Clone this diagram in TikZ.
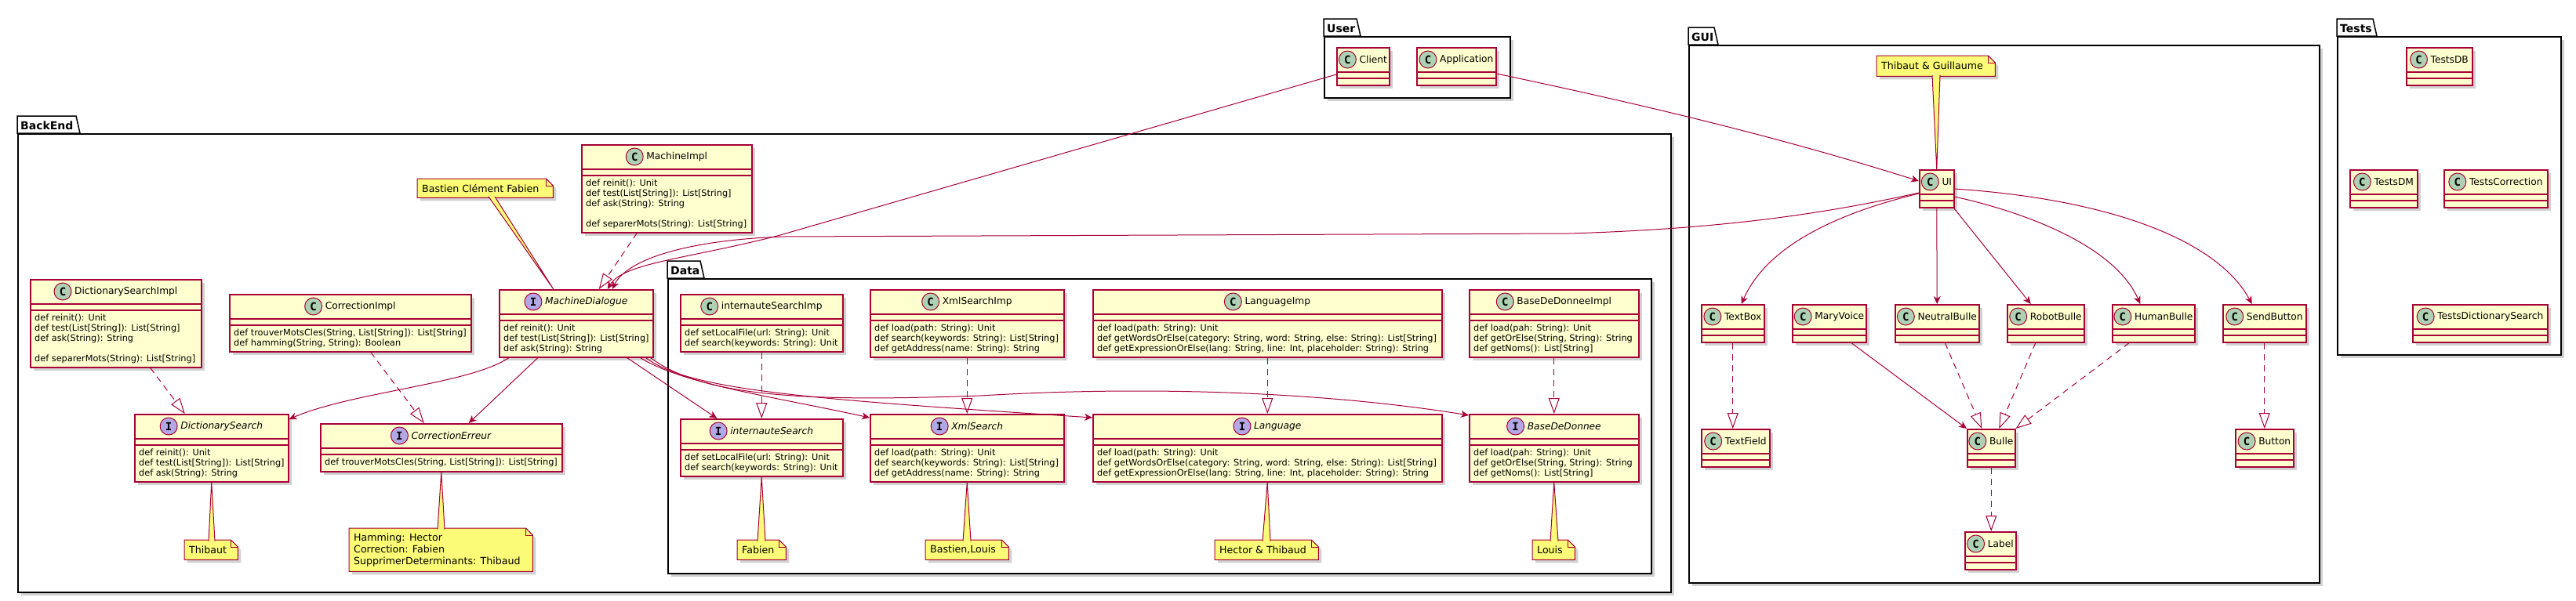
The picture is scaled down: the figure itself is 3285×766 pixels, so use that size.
\documentclass[tikz,border=0pt]{standalone}
\usepackage{fontspec}
\setmainfont{DejaVu Sans}
\newfontfamily\spotfont{DejaVu Sans Mono}
\usetikzlibrary{arrows.meta,shadows}

\definecolor{umlred}{HTML}{A80036}
\definecolor{classfill}{HTML}{FEFECE}
\definecolor{notefill}{HTML}{FBFB77}
\definecolor{spotc}{HTML}{ADD1B2}
\definecolor{spoti}{HTML}{B4A7E5}

\tikzset{
  softshadow/.style={drop shadow={shadow xshift=4pt, shadow yshift=-4pt, fill=black, opacity=0.18}},
  classbox/.style={draw=umlred, fill=classfill, line width=1.5pt, inner sep=0pt, softshadow},
  classsep/.style={draw=umlred, line width=1.5pt},
  classname/.style={inner sep=0pt, font=\fontsize{12.2}{14}\selectfont},
  members/.style={inner sep=0pt, align=left, font=\fontsize{11.3}{13}\selectfont},
  spotC/.style={circle, draw=umlred, fill=spotc, line width=1pt, minimum size=22pt, inner sep=0pt,
    font=\spotfont\bfseries\fontsize{14}{14}\selectfont},
  spotI/.style={spotC, fill=spoti},
  pkgbody/.style={draw=black, fill=white, line width=1.5pt, inner sep=0pt, softshadow},
  pkgline/.style={draw=black, line width=1.5pt},
  pkglabel/.style={inner sep=0pt, font=\bfseries\fontsize{14}{16}\selectfont},
  notebody/.style={inner sep=0pt},
  noteline/.style={draw=umlred, fill=notefill, line width=1pt},
  notetext/.style={inner sep=0pt, align=left, font=\fontsize{12.6}{15}\selectfont},
  tail/.style={draw=umlred, fill=notefill, line width=1pt},
  uses/.style={draw=umlred, line width=1pt, -{Stealth[length=10pt, width=9pt, inset=3pt]}},
  realizes/.style={draw=umlred, line width=1pt, dash pattern=on 8pt off 6pt,
    -{Triangle[open, length=20pt, width=14pt, fill=white]}}
}

% class box: name, x, y, width, height, spot letter, title, members
\newcommand{\umlclass}[8]{%
  \node[classbox, minimum width=#4pt, minimum height=#5pt, anchor=north west] (#1) at (#2,#3) {};
  \draw[classsep] ([yshift=-32pt]#1.north west) -- ([yshift=-32pt]#1.north east);
  \draw[classsep] ([yshift=-40pt]#1.north west) -- ([yshift=-40pt]#1.north east);
  \node[classname, xshift=13pt] (#1-name) at ([yshift=-16pt]#1.north) {#7};
  \node[spot#6] at ([xshift=-15pt]#1-name.west) {#6};
  \node[members, anchor=north west] at ([xshift=6pt, yshift=-45pt]#1.north west) {#8};
}

% package: name, label, x, body top, width, height, tab width
\newcommand{\umlpackage}[7]{%
  \node[pkgbody, minimum width=#5pt, minimum height=#6pt, anchor=north west] (#1) at (#3,#4) {};
  \draw[pkgline, fill=white] (#3,#4) -- ++(0,-22) -- ++(#7,0) -- ++(5,22) -- cycle;
  \node[pkglabel, anchor=south west] at ([xshift=4pt, yshift=4pt]#1.north west) {#2};
}

% note: name, x, y, width, height, text
\newcommand{\umlnote}[6]{%
  \node[notebody, minimum width=#4pt, minimum height=#5pt, anchor=north west] (#1) at (#2,#3) {};
  \draw[noteline, softshadow] (#1.north west) -- ([xshift=-9pt]#1.north east)
    -- ([yshift=-9pt]#1.north east) -- (#1.south east) -- (#1.south west) -- cycle;
  \draw[noteline, fill=none] ([xshift=-9pt]#1.north east) |- ([yshift=-9pt]#1.north east);
  \node[notetext, anchor=west] at ([xshift=6pt]#1.west) {#6};
}

\begin{document}
\begin{tikzpicture}[x=1pt, y=-1pt]
\useasboundingbox (0,0) rectangle (3285,766);

% packages
\umlpackage{backend}{BackEnd}{22}{170}{2108}{585}{75}
\umlpackage{data}{Data}{851}{355}{1254}{376}{42}
\umlpackage{user}{User}{1688}{46}{237}{78}{42}
\umlpackage{gui}{GUI}{2153}{57}{804}{686}{33}
\umlpackage{tests}{Tests}{2980}{46}{285}{406}{46}

% BackEnd
\umlclass{dsi}{38}{356}{218}{112}{C}{DictionarySearchImpl}{def reinit(): Unit\\def test(List[String]): List[String]\\def ask(String): String\\[13pt]def separerMots(String): List[String]}
\umlclass{ci}{292}{375}{308}{73}{C}{CorrectionImpl}{def trouverMotsCles(String, List[String]): List[String]\\def hamming(String, String): Boolean}
\umlclass{md}{636}{369}{196}{86}{I}{\textit{MachineDialogue}}{def reinit(): Unit\\def test(List[String]): List[String]\\def ask(String): String}
\umlclass{mi}{741}{184}{217}{112}{C}{MachineImpl}{def reinit(): Unit\\def test(List[String]): List[String]\\def ask(String): String\\[13pt]def separerMots(String): List[String]}
\umlclass{ds}{171}{528}{196}{86}{I}{\textit{DictionarySearch}}{def reinit(): Unit\\def test(List[String]): List[String]\\def ask(String): String}
\umlclass{ce}{408}{540}{308}{61}{I}{\textit{CorrectionErreur}}{def trouverMotsCles(String, List[String]): List[String]}

% Data
\umlclass{isi}{867}{375}{207}{73}{C}{internauteSearchImp}{def setLocalFile(url: String): Unit\\def search(keywords: String): Unit}
\umlclass{xsi}{1109}{369}{247}{86}{C}{XmlSearchImp}{def load(path: String): Unit\\def search(keywords: String): List[String]\\def getAddress(name: String): String}
\umlclass{lgi}{1393}{369}{445}{86}{C}{LanguageImp}{def load(path: String): Unit\\def getWordsOrElse(category: String, word: String, else: String): List[String]\\def getExpressionOrElse(lang: String, line: Int, placeholder: String): String}
\umlclass{bdi}{1873}{369}{216}{86}{C}{BaseDeDonneeImpl}{def load(pah: String): Unit\\def getOrElse(String, String): String\\def getNoms(): List[String]}
\umlclass{is}{867}{534}{207}{73}{I}{\textit{internauteSearch}}{def setLocalFile(url: String): Unit\\def search(keywords: String): Unit}
\umlclass{xs}{1109}{528}{247}{86}{I}{\textit{XmlSearch}}{def load(path: String): Unit\\def search(keywords: String): List[String]\\def getAddress(name: String): String}
\umlclass{lg}{1393}{528}{445}{86}{I}{\textit{Language}}{def load(path: String): Unit\\def getWordsOrElse(category: String, word: String, else: String): List[String]\\def getExpressionOrElse(lang: String, line: Int, placeholder: String): String}
\umlclass{bd}{1873}{528}{216}{86}{I}{\textit{BaseDeDonnee}}{def load(pah: String): Unit\\def getOrElse(String, String): String\\def getNoms(): List[String]}

% User
\umlclass{client}{1704}{60}{67}{48}{C}{Client}{}
\umlclass{app}{1806}{60}{101}{48}{C}{Application}{}

% GUI
\umlclass{ui}{2447}{216}{44}{48}{C}{UI}{}
\umlclass{tb}{2169}{388}{80}{48}{C}{TextBox}{}
\umlclass{mv}{2285}{388}{94}{48}{C}{MaryVoice}{}
\umlclass{nb}{2416}{388}{107}{48}{C}{NeutralBulle}{}
\umlclass{rb}{2559}{388}{98}{48}{C}{RobotBulle}{}
\umlclass{hb}{2693}{388}{105}{48}{C}{HumanBulle}{}
\umlclass{sb}{2834}{388}{106}{48}{C}{SendButton}{}
\umlclass{tf}{2169}{547}{87}{48}{C}{TextField}{}
\umlclass{bu}{2508}{547}{61}{48}{C}{Bulle}{}
\umlclass{bt}{2850}{547}{74}{48}{C}{Button}{}
\umlclass{lb}{2505}{678}{65}{48}{C}{Label}{}

% Tests
\umlclass{tdb}{3068}{60}{84}{48}{C}{TestsDB}{}
\umlclass{tdm}{2996}{216}{86}{48}{C}{TestsDM}{}
\umlclass{tco}{3116}{216}{132}{48}{C}{TestsCorrection}{}
\umlclass{tds}{3076}{388}{172}{48}{C}{TestsDictionarySearch}{}

% notes
\umlnote{nmd}{532}{228}{173}{24}{Bastien Clément Fabien}
\umlnote{nds}{235}{689}{68}{25}{Thibaut}
\umlnote{nce}{445}{674}{234}{55}{Hamming: Hector\\Correction: Fabien\\SupprimerDeterminants: Thibaud}
\umlnote{nis}{940}{689}{62}{25}{Fabien}
\umlnote{nxs}{1180}{689}{106}{25}{Bastien,Louis}
\umlnote{nlg}{1549}{689}{132}{25}{Hector \& Thibaud}
\umlnote{nbd}{1954}{689}{54}{25}{Louis}
\umlnote{nui}{2393}{71}{151}{26}{Thibaut \& Guillaume}

% note tails
\path[tail] ([xshift=91pt, yshift=1.5pt]nmd.south west) -- ([xshift=-29pt]md.north) -- ([xshift=99pt, yshift=1.5pt]nmd.south west);
\path[tail] ([xshift=31pt, yshift=-1.5pt]nds.north west) -- (ds.south) -- ([xshift=39pt, yshift=-1.5pt]nds.north west);
\path[tail] ([xshift=113pt, yshift=-1.5pt]nce.north west) -- (ce.south) -- ([xshift=122pt, yshift=-1.5pt]nce.north west);
\path[tail] ([xshift=26pt, yshift=-1.5pt]nis.north west) -- (is.south) -- ([xshift=36pt, yshift=-1.5pt]nis.north west);
\path[tail] ([xshift=48pt, yshift=-1.5pt]nxs.north west) -- (xs.south) -- ([xshift=58pt, yshift=-1.5pt]nxs.north west);
\path[tail] ([xshift=61pt, yshift=-1.5pt]nlg.north west) -- (lg.south) -- ([xshift=71pt, yshift=-1.5pt]nlg.north west);
\path[tail] ([xshift=23pt, yshift=-1.5pt]nbd.north west) -- (bd.south) -- ([xshift=33pt, yshift=-1.5pt]nbd.north west);
\path[tail] ([xshift=71pt, yshift=1.5pt]nui.south west) -- (ui.north) -- ([xshift=81pt, yshift=1.5pt]nui.south west);

% realizations
\draw[realizes] ([xshift=44pt]dsi.south) -- ([xshift=-34pt]ds.north);
\draw[realizes] ([xshift=26pt]ci.south) -- ([xshift=-22pt]ce.north);
\draw[realizes] ([xshift=-38pt]mi.south) -- ([xshift=29pt]md.north);
\draw[realizes] (isi.south) -- (is.north);
\draw[realizes] (xsi.south) -- (xs.north);
\draw[realizes] (lgi.south) -- (lg.north);
\draw[realizes] (bdi.south) -- (bd.north);
\draw[realizes] (tb.south) -- (tb.south |- tf.north);
\draw[realizes] ([xshift=10pt]nb.south) -- ([xshift=-12pt]bu.north);
\draw[realizes] ([xshift=-13pt]rb.south) -- ([xshift=10pt]bu.north);
\draw[realizes] ([xshift=-31pt]hb.south) -- (bu.north east);
\draw[realizes] (sb.south) -- (sb.south |- bt.north);
\draw[realizes] (bu.south) -- (bu.south |- lb.north);

% uses from MachineDialogue
\draw[uses] ([xshift=13pt]md.south west) .. controls (600,490) and (450,500) .. ([yshift=-7pt]ds.north east);
\draw[uses] ([xshift=50pt]md.south west) -- ([xshift=35pt]ce.north);
\draw[uses] ([xshift=-34pt]md.south east) -- ([xshift=-57pt]is.north);
\draw[uses] ([xshift=-17pt]md.south east) .. controls (870,490) and (980,505) .. ([yshift=-5pt]xs.north west);
\draw[uses] ([xshift=-10pt]md.south east) .. controls (880,500) and (1050,510) .. ([yshift=-5pt]lg.north west);
\coordinate (bdvia) at (1250,505);
\draw[uses] ([xshift=-4pt]md.south east) .. controls (900,510) and (1050,512) .. (bdvia)
  .. controls (1500,490) and (1720,505) .. ([yshift=-2pt]bd.north west);

% uses from User and GUI
\coordinate (clientvia) at (995,300);
\draw[uses] ([yshift=-35pt]client.north west) -- (clientvia) .. controls (880,330) and (795,335) .. ([xshift=40pt]md.north);
\coordinate (uivia1) at (2000,298);
\coordinate (uivia2) at (1000,302);
\draw[uses] ([yshift=-30pt]ui.north west) .. controls (2330,272) and (2200,292) .. (uivia1) -- (uivia2)
  .. controls (880,306) and (800,330) .. ([xshift=46pt]md.north);
\draw[uses] ([yshift=-34pt]app.north east) .. controls (2150,145) and (2300,185) .. ([yshift=-15pt]ui.north west);
\draw[uses] ([yshift=-31pt]ui.north west) .. controls (2330,275) and (2250,320) .. ([xshift=11pt]tb.north);
\draw[uses] (ui.south) -- (nb.north);
\draw[uses] ([xshift=-1pt]ui.south east) -- ([xshift=-19pt]rb.north);
\draw[uses] ([yshift=-35pt]ui.north east) .. controls (2600,275) and (2700,320) .. ([xshift=-17pt]hb.north);
\draw[uses] ([yshift=-25pt]ui.north east) .. controls (2700,255) and (2830,310) .. ([xshift=-16pt]sb.north);
\draw[uses] ([xshift=28pt]mv.south) -- (bu.north west);
\end{tikzpicture}
\end{document}
